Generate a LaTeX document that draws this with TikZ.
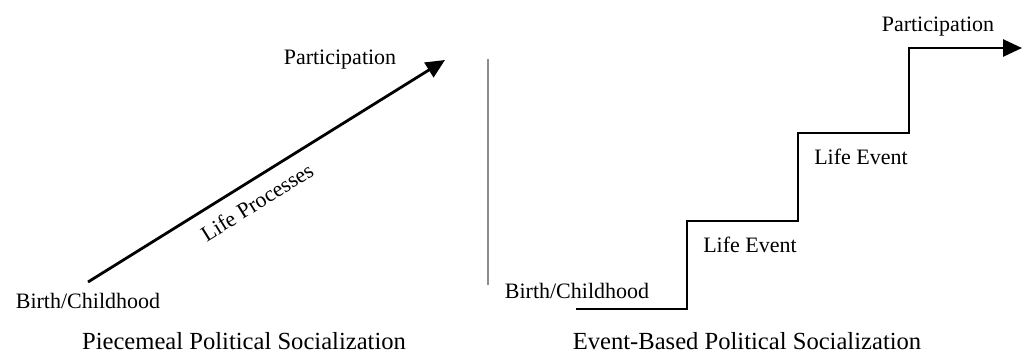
\documentclass[tikz,border=0pt]{standalone}
\usepackage{fontspec}
\setmainfont{Liberation Serif}
\usetikzlibrary{arrows.meta}
\begin{document}
\begin{tikzpicture}[x=1pt,y=-1pt,
  lbl/.style={inner sep=0pt, anchor=base, font=\fontsize{22}{26}\selectfont},
  capt/.style={inner sep=0pt, anchor=base, font=\fontsize{24.6}{28}\selectfont},
  growth/.style={line width=2.8pt, line join=miter, -{Triangle[length=19pt,width=17pt]}},
  divider/.style={line width=1.6pt, draw=black!45}]
\useasboundingbox (0,0) rectangle (1027,362);
% left panel
\coordinate (la) at (88,282);
\coordinate (lb) at (445,60);
\draw[growth] (la) -- (lb);
\node[lbl] (lpart) at (340,64) {Participation};
\node[lbl] (lbirth) at (88,308) {Birth/Childhood};
\node[inner sep=0pt, font=\fontsize{22}{26}\selectfont, rotate=31.9] (lproc) at (257,202) {Life Processes};
\node[capt] (lcap) at (244,349) {Piecemeal Political Socialization};
% divider
\coordinate (da) at (488,59);
\coordinate (db) at (488,285);
\draw[divider] (da) -- (db);
% right panel
\coordinate (s0) at (576,309);
\coordinate (s1) at (687,221);
\coordinate (s2) at (798,133);
\coordinate (s3) at (909,48);
\coordinate (s4) at (1022,48);
\draw[growth] (s0) -| (s1) -| (s2) -| (s3) -- (s4);
\node[lbl] (rbirth) at (577,298) {Birth/Childhood};
\node[lbl] (rev1) at (750,252) {Life Event};
\node[lbl] (rev2) at (861,164) {Life Event};
\node[lbl] (rpart) at (938,31) {Participation};
\node[capt] (rcap) at (747,349) {Event-Based Political Socialization};
\end{tikzpicture}
\end{document}
